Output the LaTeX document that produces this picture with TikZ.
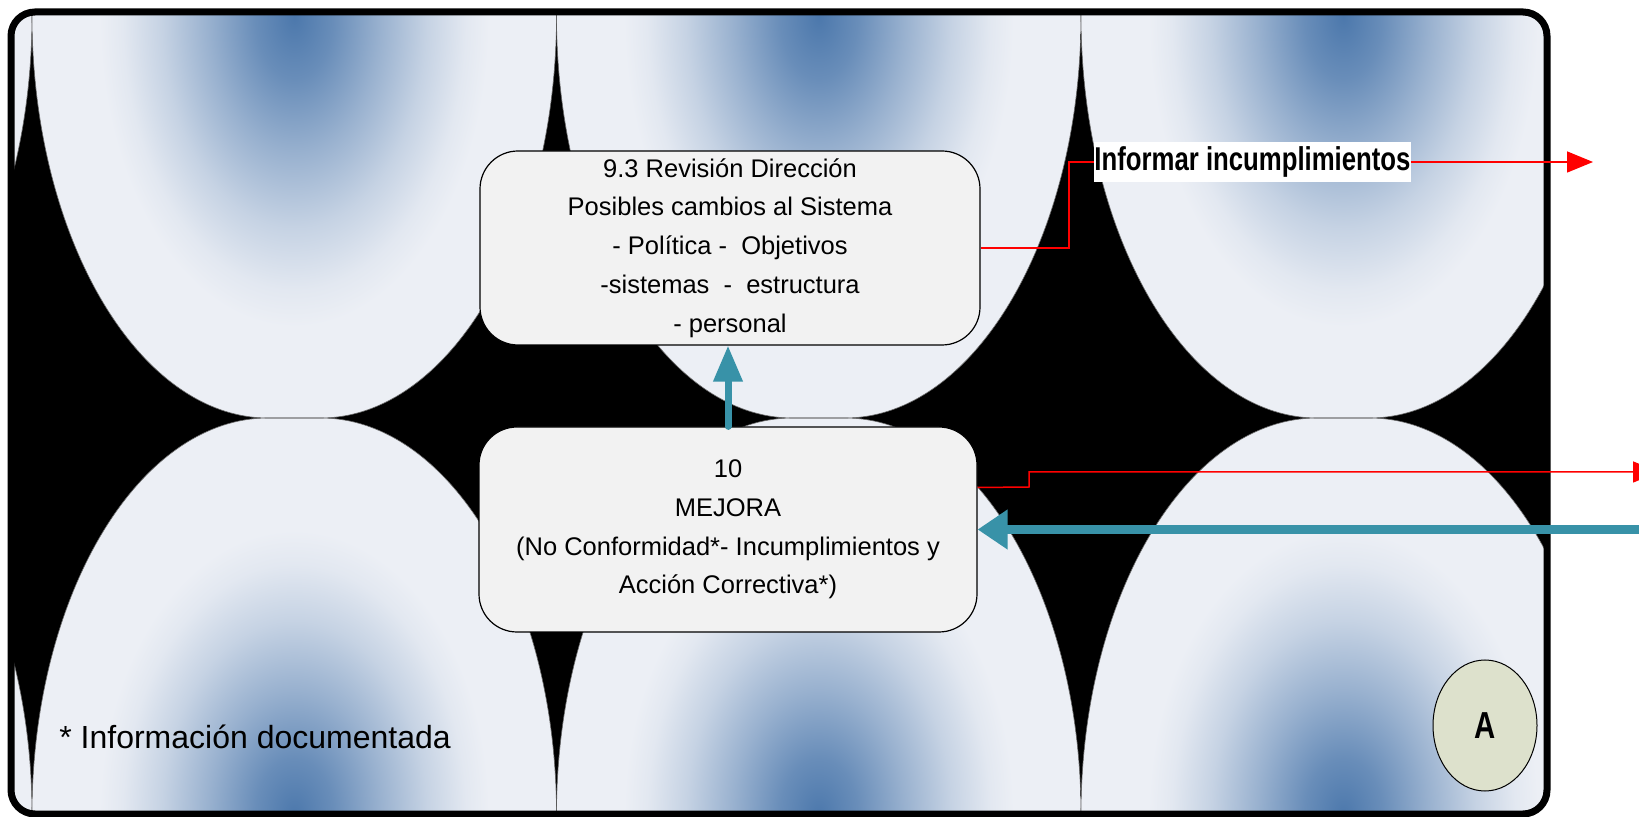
\documentclass[tikz,border=0pt]{standalone}
\usepackage{fontspec}
\setmainfont{Liberation Sans}
\newfontfamily\angosta[FakeStretch=0.78]{Liberation Sans}
\usetikzlibrary{arrows.meta,shapes.geometric}
\definecolor{azulfondo}{RGB}{76,120,172}
\definecolor{clarofondo}{RGB}{236,239,245}
\definecolor{cajagris}{RGB}{242,242,242}
\definecolor{azulflecha}{RGB}{56,146,168}
\definecolor{verdeA}{RGB}{221,225,204}
\pgfdeclareradialshading{halo}{\pgfpoint{0bp}{0bp}}{color(0bp)=(azulfondo); color(5bp)=(azulfondo!82!clarofondo);
  color(11bp)=(azulfondo!52!clarofondo); color(17bp)=(azulfondo!24!clarofondo); color(22bp)=(azulfondo!6!clarofondo);
  color(25bp)=(clarofondo); color(50bp)=(clarofondo)}
\tikzset{
  caja/.style={draw,fill=cajagris,line width=0.6pt,rounded corners=19pt,align=center,inner sep=0pt,
    font=\fontsize{12.75}{19.4}\selectfont},
  linearoja/.style={red,line width=0.75pt},
  flecharoja/.style={linearoja,-{Triangle[length=13pt,width=10.5pt]}},
  flechaazul/.style={azulflecha,line cap=round},
  borde/.style={black!60,line width=0.3pt}
}

\begin{document}
\begin{tikzpicture}[x=0.5pt,y=-0.5pt]
\useasboundingbox (0,0) rectangle (1639,817);
\fill[white] (0,0) rectangle (1639,817);

\begin{scope}
\clip[rounded corners=12pt] (11,12) rectangle (1547,814);
\fill[black] (11,12) rectangle (1547,814);
\foreach \i in {-1,...,2}{
  \pgfmathsetmacro\xa{32+524.5*\i}
  \pgfmathsetmacro\xb{\xa+524.5}
  \pgfmathsetmacro\xc{\xa+262.25}
  \def\copa{(\xa,15) .. controls (\xa,237) and ({\xc-156},418) .. ({\xc-26},418) -- ({\xc+26},418) .. controls ({\xc+156},418) and (\xb,237) .. (\xb,15)}
  \def\cuenco{(\xa,815) .. controls (\xa,596) and ({\xc-156},418) .. ({\xc-26},418) -- ({\xc+26},418) .. controls ({\xc+156},418) and (\xb,596) .. (\xb,815)}
  \begin{scope}
    \clip \copa -- cycle;
    \fill[clarofondo] (\xa,0) rectangle (\xb,430);
    \shade[shading=halo] (\xc,17) ellipse [x radius=195,y radius=310];
  \end{scope}
  \begin{scope}
    \clip \cuenco -- cycle;
    \fill[clarofondo] (\xa,410) rectangle (\xb,830);
    \shade[shading=halo] (\xc,815) ellipse [x radius=195,y radius=285];
  \end{scope}
  \draw[borde] \copa;
  \draw[borde] \cuenco;
}
\end{scope}
\draw[line width=3.5pt,rounded corners=12pt] (11,12) rectangle (1547,814);

\node[caja,minimum width=250pt,minimum height=97pt] (revision) at (730,248)
  {9.3 Revisión Dirección\\Posibles cambios al Sistema\\- Política -\ \ Objetivos\\-sistemas\ \ -\ \ estructura\\- personal};
\node[caja,minimum width=249pt,minimum height=102.5pt] (mejora) at (728,529.5)
  {10\\MEJORA\\(No Conformidad*- Incumplimientos y\\Acción Correctiva*)};

\node[fill=white,inner sep=0pt,minimum width=157.5pt,minimum height=20pt,
  font=\angosta\bfseries\fontsize{16.5}{18}\selectfont] (informar) at (1252.5,162) {Informar incumplimientos};
\coordinate (salida1) at (1593,162);
\coordinate (salida2) at (1659,472);
\coordinate (entrada) at (1650,529.5);

\draw[linearoja] (revision.east) -- (1069,248) |- (informar.west);
\draw[flecharoja] (informar.east) -- (salida1);
\draw[flecharoja] ([yshift=21pt]mejora.east) -- (1029,487) |- (salida2);

\draw[flechaazul,line width=3.5pt,-{Triangle[length=18pt,width=14pt]}] (mejora.north) -- (mejora.north |- revision.south);
\draw[flechaazul,line width=4.5pt,-{Triangle[length=15pt,width=19pt]}] (entrada) -- (mejora.east);

\node[ellipse,draw,fill=verdeA,line width=0.5pt,minimum width=52pt,minimum height=65.5pt,inner sep=0pt,
  font=\angosta\bfseries\fontsize{18.8}{20}\selectfont] (circA) at (1485,725.5) {A};
\node[anchor=base west,inner sep=0pt,font=\fontsize{16}{19}\selectfont] (nota) at (59,748) {* Información documentada};
\end{tikzpicture}
\end{document}
